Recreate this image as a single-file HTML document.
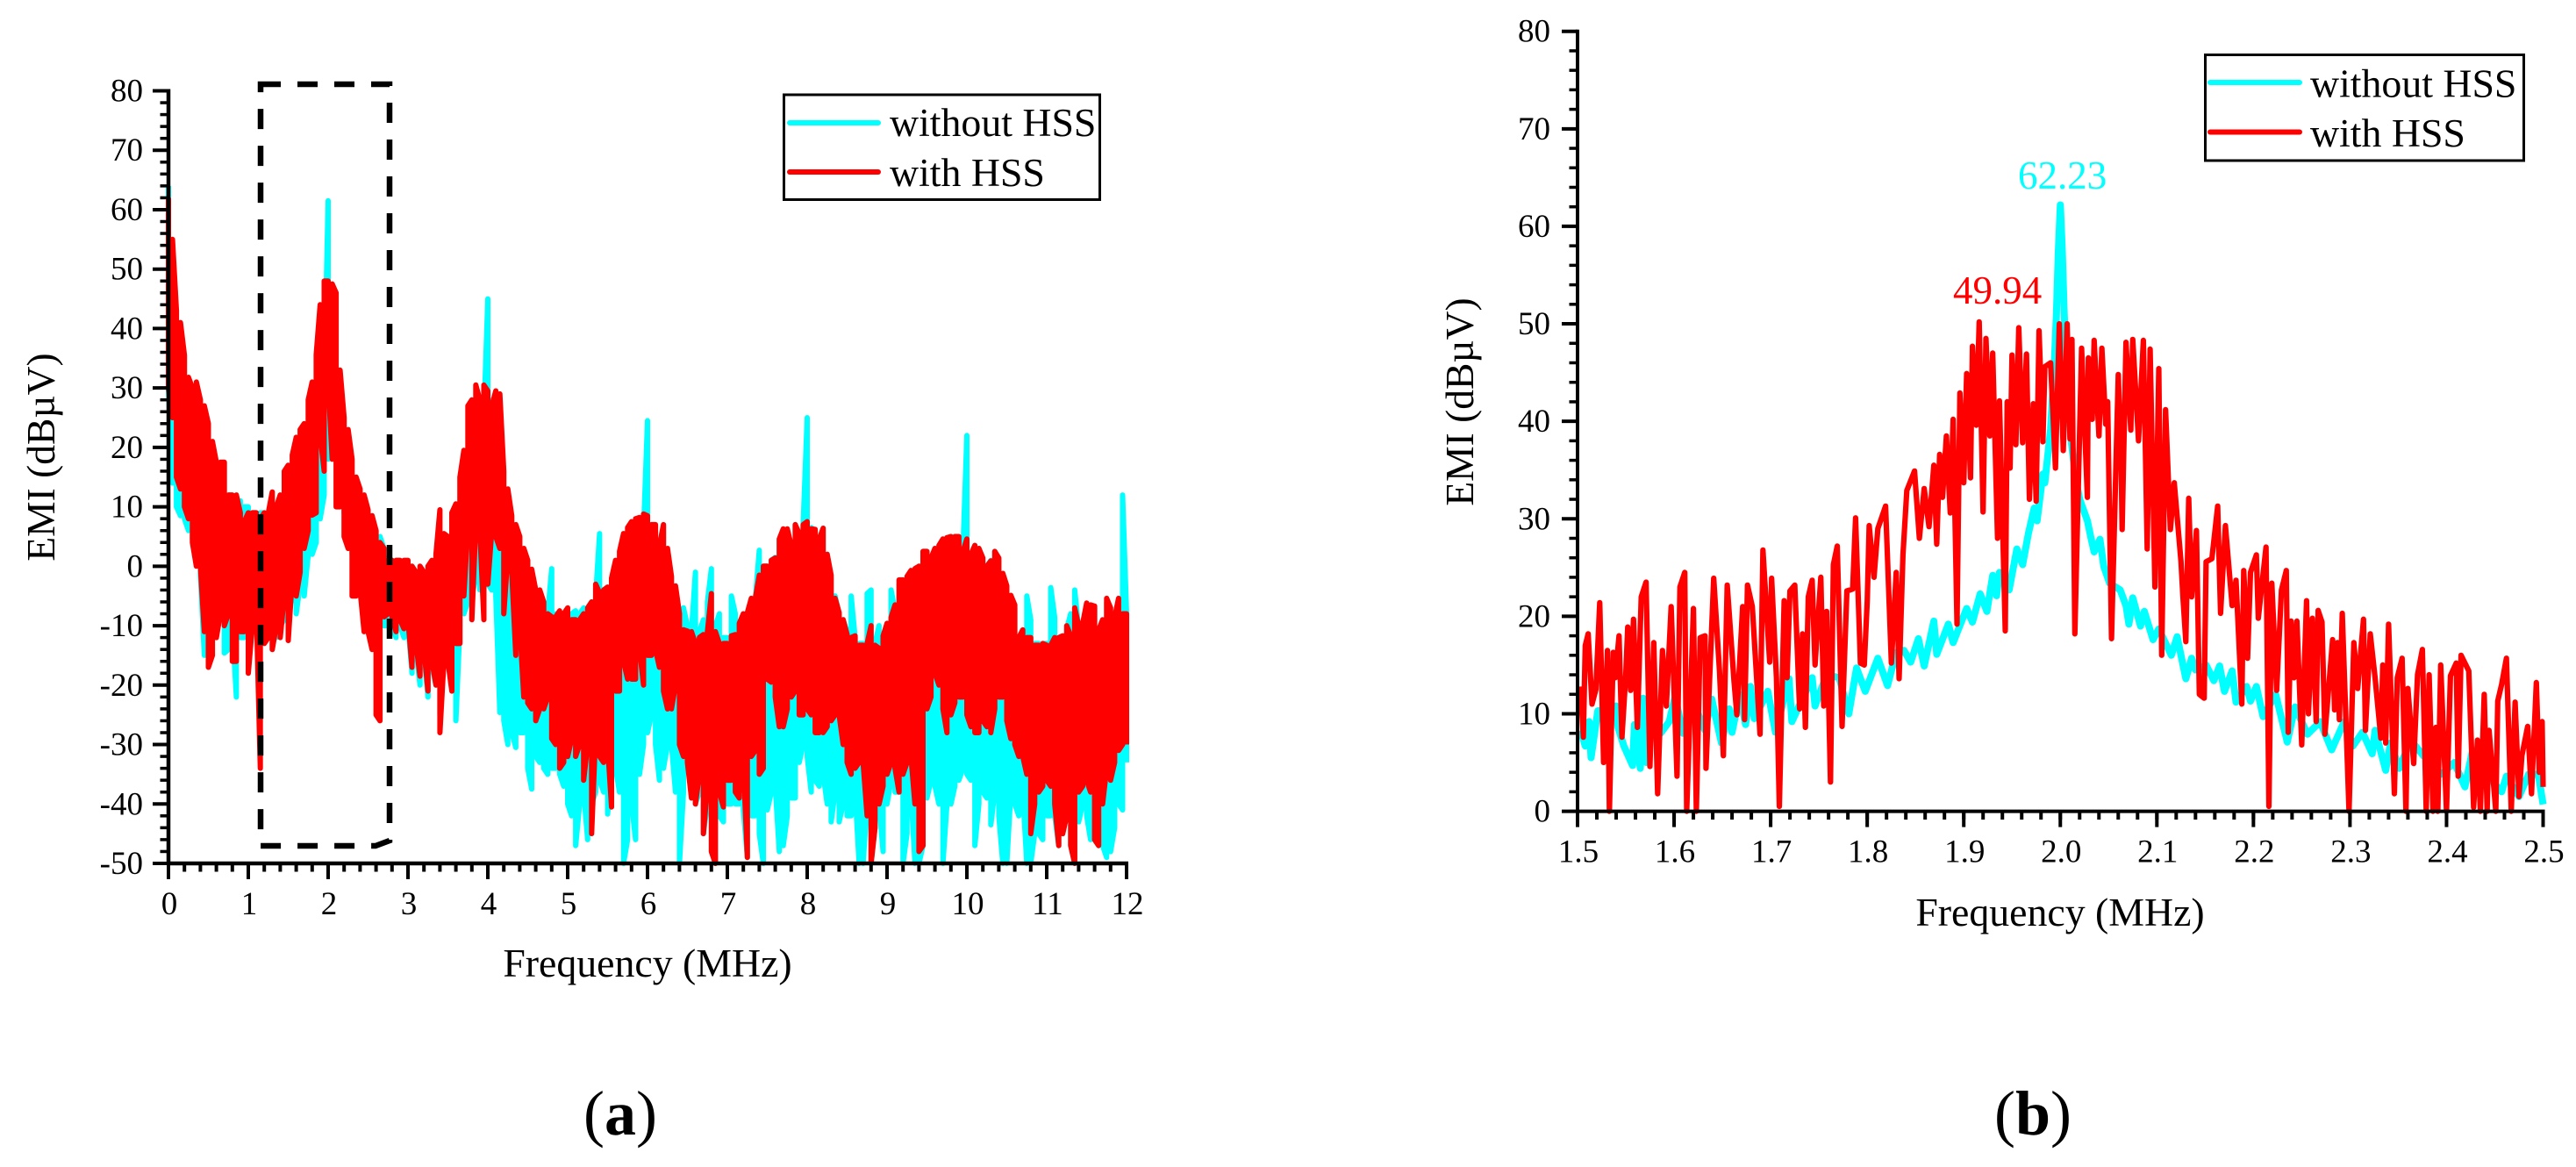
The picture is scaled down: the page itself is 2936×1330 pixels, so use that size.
<!DOCTYPE html>
<html lang="en">
<head>
<meta charset="utf-8">
<title>EMI spectrum with and without HSS</title>
<style>
html,body{margin:0;padding:0;background:#fff;}
svg{display:block;font-family:"Liberation Serif",serif;}
</style>
</head>
<body>
<svg id="figure" xmlns="http://www.w3.org/2000/svg" width="2936" height="1330" viewBox="0 0 2936 1330">
  <rect width="2936" height="1330" fill="#fff"/>
  <g id="panel-a"></g>
  <g id="panel-b"></g>

  <path d="M297 96H444V958L428 964H297Z" fill="none" stroke="#000" stroke-width="6.5" stroke-dasharray="23 19"/>

  <g>
    <rect x="893.5" y="108" width="360" height="119.5" fill="#fff" stroke="#000" stroke-width="3"/>
    <line x1="900" y1="140" x2="1001" y2="140" stroke="#00ffff" stroke-width="6" stroke-linecap="round"/>
    <text x="1014" y="155" font-size="45.8">without HSS</text>
    <line x1="900" y1="196" x2="1001" y2="196" stroke="#ff0000" stroke-width="6" stroke-linecap="round"/>
    <text x="1014" y="212" font-size="45.8">with HSS</text>
  </g>

  <g>
    <rect x="2513.5" y="62.5" width="363" height="120.5" fill="#fff" stroke="#000" stroke-width="3"/>
    <line x1="2519" y1="94" x2="2621" y2="94" stroke="#00ffff" stroke-width="6" stroke-linecap="round"/>
    <text x="2633" y="110.5" font-size="45.8">without HSS</text>
    <line x1="2519" y1="150.5" x2="2621" y2="150.5" stroke="#ff0000" stroke-width="6" stroke-linecap="round"/>
    <text x="2633" y="167" font-size="45.8">with HSS</text>
  </g>

  <text x="2300" y="215" font-size="45" fill="#00ffff">62.23</text>
  <text x="2226" y="346" font-size="45" fill="#ff0000">49.94</text>

  <text x="707" y="1293" font-size="72" text-anchor="middle">(<tspan font-weight="bold">a</tspan>)</text>
  <text x="2317" y="1293" font-size="72" text-anchor="middle">(<tspan font-weight="bold">b</tspan>)</text>
</svg>

<script>
/* Panel (a): envelopes, one value per aFreqStep MHz, 0 to 12 MHz */
const aFreqStep = 0.05;
const aCyanUpper = [
64,38,24,20,20,18,16,16,14,14,12,12,10,10,10,10,10,10,11,10,
10,9,9,9,9,8,8,9,10,11,12,13,14,15,16,18,20,22,24,31,
61.5,32,26,22,19,16,14,12,10,8,7,7,6,5,3,1.5,1,1,1,0,
0,0,-1,-1,-1,-1,0,0,0,1,2,3,4,5,6,8,12,15,18,25,
45,28,20,8,6,5,2,0,-1,-2,-4,-5,-6,-8,-9,-8,-0.4,-8,-9,-10,
-9,-8,-7.5,-8,-7,-7,-6,-5,5.5,-4,-4,-3.5,-3,-2,-1,0,2,4,5,6,
24.5,7,6,3,6,2,-2,-4,-8,-7,-10,-11,-1,-11,-9,-6,-0.4,-10,-8,-12,
-12,-5,-8,-11,-8,-8.5,-6,-5.5,2.7,0,0,1,1.5,4.5,6,6,3,7,5,7,
25,6.5,6,4,6,2,-2,-5,-8,-9,-11,-5,-12,-13,-13,-4.6,-4,-13,-10,-12,
-10,-4,-7.5,-3,-3,-2.5,-1.5,-1,0,2.3,2.3,1,3,3.5,4.4,4.5,5,5,5,2.5,
22,2,3.5,3,1,0,1,2.5,1,-1.5,-3.5,-5,-7,-12,-11,-5,-9,-13,-13,-13,
-13,-3.6,-8.6,-12.5,-12,-10.5,-8,-4,-10.5,-10,-6.5,-6.5,-7,-11,-9.5,-6,-7.5,-9,-6,12,
-8];
const aCyanLower = [
30,14,10,8.5,8,6,4.5,4,-1.5,-15,-16,-12,-8,-6,-14.6,-14,-10,-22,-12,-12,
-15,-8,-8,-8,-8,-10,-12,-12,-10,-9,-8,-5,-8,-3,-5,2,2,4,8,12,
18,22,20,14,9,4,2,-1,-4,-8,-10,-12,-14,-16,-10,-10,-10,-12,-10,-12,
-10,-18,-14,-20,-15,-22,-17,-20,-25,-16,-16,-20,-26,-10,-8,-6,-5,-2,-4,-2,
-3,-4,-5,-24.6,-26,-30,-28,-30.5,-28,-28,-34,-37.5,-32,-33,-34,-35,-34,-34,-35,-37,
-40,-42,-47,-40,-38,-46,-40,-38,-36,-38,-41.7,-35,-34,-38,-50,-46,-40,-46,-35,-30,
-28,-25,-30,-36,-34,-30,-30,-38,-50,-38,-34,-35,-40,-38,-45,-40,-48,-50,-42,-43,
-40,-40,-40,-40,-41,-49,-42,-42,-45,-50,-41,-38,-37,-48,-47,-42,-39,-39,-33,-30,
-32,-38,-36,-37,-35,-40,-43,-38,-43,-40,-42,-42,-38,-50,-50,-40,-50,-44,-40,-48,
-40,-36,-38,-38,-50,-45,-38,-50,-50,-47,-39,-36,-37,-40,-50,-40,-40,-37,-36,-34,
-35,-36,-47,-40,-38,-39,-43.5,-38,-42,-50,-50,-38,-40,-42,-38,-50,-50,-45,-45,-46,
-42,-42,-42,-47,-45,-42,-47,-50,-43,-40,-42,-46,-46,-47,-47,-49,-48,-44,-40,-41,
-33];
const aRedUpper = [
62,55,43,41,35.5,31.8,30,31,28,27,24,21,17.5,17.5,17.5,12,12,12,9,7.5,
9,9,9,8,9,9,12.5,10,12,16,17,18.7,21.7,23,24,28,31,35.6,44,48,
48,47.5,46,33,25,23,18,15,13,12,9.5,8.5,6,4,3,1,1,1,1,1,
1,0,-1,0,-1,0,1,2,9.5,5.5,5,9,10.5,15,19.5,27,28,30.5,28,30.5,
29.5,27,29.5,29,16,13,8.5,7,5,3,1,-0.5,-4,-4,-6,-8,-8.5,-8.5,-7.5,-8,
-7,-9,-9,-9,-8,-7,-6,-3,-4.5,-4,-3.5,-2,1,2.5,5.5,6.5,7.5,8,8.2,8.8,
8.5,7,7,3.5,7,3,-1.7,-3.3,-8,-10.7,-10.9,-11,-13,-12,-11.5,-11,-4.6,-11,-13,-13,
-13,-11.7,-11.5,-9.6,-8,-7.8,-5.4,-5.4,-1.5,0,0,1,1.4,4.6,6.3,6.3,3.5,7,5.5,7,
7.5,6.3,6.2,4.6,6.4,2,-1.5,-5.4,-7.8,-9,-11.5,-12,-11.7,-13.3,-13.3,-13,-10,-13.3,-13.8,-11.7,
-9.6,-8.6,-6.5,-2.3,-2.3,-1.7,-0.7,-0.4,0,2.5,2.5,1.4,3,3.5,4.6,4.8,5,5,5,2.5,
4.6,2,3.5,3,1.4,0,0.9,2.5,1.4,-1.2,-3.3,-4.9,-6.5,-12,-10.7,-12,-12,-13.3,-13.3,-13,
-13.3,-13.3,-12,-12,-11.7,-10,-11.7,-7,-10,-9.6,-6.2,-6.5,-6.7,-10.7,-9,-5.4,-7,-8.6,-5.4,-8,
-8];
const aRedLower = [
30,25,15,13,10,8,4,0,0,-11,-17,-15,-12,-8,-10,-8,-16,-16,-11,-11,
-18,-10,-7,-34,-13,-12,-14,-10,-12,-5,-12.5,-2,-5,-1,3,6,8.6,9,22,16,
31,18,10,10,5,3,-5,-5,-4,-11,-11,-14,-25,-26,-8.5,-8,-8.5,-11,-9,-10.5,
-9,-17,-13,-18.5,-14,-21,-16,-20,-28,-16,-16,-21,-13,-13,-5,7,-9,7,6,-9,
-3,6,5,3,-8,2,-1,-15,-10,-22,-23,-24,-26,-24,-24,-22,-29,-30,-34,-33,
-32,-29,-32,-30,-36,-30,-45,-28,-32,-33,-30,-40.5,-21,-21,-16,-19,-19,-19,-14,-20,
-15,-15,-14,-17,-21,-24,-24,-20,-30,-32,-33,-39,-40,-35,-45,-37,-48,-50,-38,-40.5,
-36,-36,-38,-39,-33,-49,-32,-31,-35,-34,-19,-19.5,-22,-27,-27,-24,-22,-21,-25,-25,
-24,-25,-28,-28,-28,-27,-26,-25,-25,-30,-33,-35,-34,-33,-33,-42,-50,-44,-40,-37,
-35,-33,-34,-38,-35,-33,-32,-40,-48,-47,-24,-22,-18,-20,-24,-28,-25,-23,-22,-22,
-25,-27,-28,-28,-26,-27,-28,-24,-22,-22,-26,-29,-30,-32,-32,-35,-45,-40,-38,-37,
-36,-37,-40,-47,-45,-42,-47,-50,-38,-37,-36,-38,-46,-47,-40,-34,-36,-33,-31,-30,
-30];
const aXTickLabels = ['0','1','2','3','4','5','6','7','8','9','10','11','12'];
const aYTickLabels = ['80','70','60','50','40','30','20','10','0','-10','-20','-30','-40','-50'];

/* Panel (b): turning points */
const bRedFreq = [
1.503,1.506,1.508,1.511,1.515,1.519,1.523,1.527,1.531,1.533,1.537,1.539,1.543,1.546,1.55,1.552,1.555,1.558,1.562,1.566,
1.571,1.575,1.579,1.583,1.588,1.592,1.597,1.603,1.606,1.611,1.613,1.62,1.623,1.627,1.632,1.633,1.641,1.647,1.651,1.655,
1.662,1.665,1.671,1.673,1.676,1.681,1.689,1.692,1.699,1.701,1.706,1.709,1.714,1.717,1.72,1.725,1.73,1.733,1.736,1.739,
1.743,1.746,1.752,1.755,1.758,1.762,1.765,1.769,1.774,1.779,1.785,1.788,1.793,1.797,1.8,1.802,1.807,1.811,1.819,1.825,
1.83,1.833,1.837,1.841,
1.849,1.854,1.859,1.864,1.869,1.872,1.875,1.878,1.882,1.886,1.889,1.893,1.896,1.9,1.903,1.907,1.909,1.913,1.916,1.92,
1.923,1.927,1.93,1.935,1.937,1.943,1.945,1.948,1.95,1.954,1.957,1.961,1.965,1.968,1.972,1.975,1.978,1.982,1.984,1.99,
1.995,1.999,2.003,2.007,2.01,2.012,2.015,2.022,2.028,2.029,2.033,2.035,2.04,2.043,2.047,2.049,2.053,2.06,2.063,2.064,
2.068,2.073,2.075,2.081,2.086,2.09,2.093,2.098,2.102,2.105,2.109,2.114,2.118,
2.125,2.127,2.13,2.133,2.136,2.141,2.144,2.149,2.151,2.157,2.163,2.166,
2.171,2.178,2.182,2.188,2.19,2.194,2.197,2.203,2.205,2.213,2.216,2.219,2.224,2.229,2.234,2.236,2.239,2.242,2.245,2.25,
2.255,2.257,2.261,2.265,2.267,2.271,2.274,2.282,2.284,2.287,2.289,2.292,2.299,2.304,2.308,2.314,2.316,2.321,2.326,2.332,
2.334,2.337,2.34,2.346,2.349,2.354,2.358,2.36,2.366,2.37,2.375,2.379,2.382,2.386,2.389,2.391,2.394,2.4,2.404,2.41,
2.412,2.415,2.423,2.428,2.432,2.435,2.439,2.442,2.444,2.451,2.453,2.457,2.462,2.467,2.471,2.475,2.478,2.484,2.488,2.493,
2.496,2.499,2.5];
const bRedLevel = [
12.8,7.6,17,18.2,11,12.5,21.4,5,16.5,0,16.3,13.7,18,7.6,14,18.9,12.4,19.7,8.6,22,
23.5,4.6,17.3,1.8,16.5,10.8,21,3.6,23,24.5,0,20.8,0,17.8,18,4.4,23.9,14.4,5.7,23.2,
13.4,9.9,21,9.4,23.2,21,7.9,26.8,15.3,23.9,13.7,0.5,21.6,13.7,22.6,23.2,10.5,18.2,8.6,22,
23.7,15,24,10.8,20.5,3,25.3,27.2,8.7,22.6,22.8,30.1,15.2,15,21.6,29.3,24,29,31.3,15.2,
24.5,13.6,26.3,32.9,
34.9,28,33.1,29.2,35.5,27.4,36.6,32.2,38.5,30.6,40.2,19.2,42.9,33.7,44.9,34.2,47.7,39.6,50.2,30.7,
48.5,38.5,47,28,42.1,18.5,42,35.2,46.8,37.6,49.6,37.8,46.9,32,41.8,31.8,49.3,37.9,45.6,46,
35.2,50,37,50,38.2,48.4,18.2,47.5,32.2,46.5,40.2,48.3,38.5,47.5,39.7,42,17.7,44.8,35.8,28.9,
48.1,39.1,48.4,38,48.3,26.9,47.4,23,45.4,16,41.2,28.9,33.7,
25.6,22,17.4,32.1,22,28.8,12,11.6,25.6,25.9,31.3,20.3,
29.3,21.1,23.7,11,24.7,15.7,24.5,26.3,19.8,27.1,0.5,23.4,12.4,22.7,24.7,8.1,19.5,13.7,19.5,6.8,
21.6,10,19.8,9.2,20.6,19.4,7.9,17.6,10.4,17.3,9.4,20.3,0,17.3,12.6,19.7,8.3,18.2,13.7,7.5,
15,7,19.2,1.8,13.7,15.7,0,12.6,4.9,14,16.6,0,14,0,8.6,0,15,0,13.9,15.2,
3.6,16,14.4,0.4,7.3,0,12,0,8.3,0,11.3,13,15.7,0,11.2,1.5,5.7,8.7,1.8,13.2,
4,9.2,2.5];
const bCyanFreq = [
1.503,1.508,1.512,1.514,1.521,1.54,1.542,1.548,1.557,1.559,1.565,1.568,1.571,1.576,1.586,1.595,1.601,1.609,1.62,1.632,
1.639,1.649,1.657,1.66,1.668,1.674,1.679,1.683,1.697,1.705,1.719,1.722,1.743,1.746,1.758,1.771,1.781,1.789,1.798,1.811,
1.821,1.83,1.838,1.845,1.853,1.859,1.869,1.872,1.884,1.889,1.903,1.909,1.917,1.924,1.93,1.934,1.937,1.947,1.955,1.961,
1.967,1.973,1.976,1.982,1.984,1.99,1.994,1.996,1.998,2,2.002,2.004,2.007,2.011,2.016,2.02,2.028,2.032,2.035,2.041,
2.045,2.051,2.062,2.068,2.071,2.075,2.083,2.087,2.096,2.102,2.115,2.121,2.13,2.136,2.14,2.151,2.159,2.165,2.17,2.178,
2.182,2.193,2.197,2.203,2.21,2.223,2.235,2.243,2.256,2.269,2.281,2.294,2.303,2.313,2.323,2.326,2.337,2.342,2.351,2.363,
2.376,2.395,2.408,2.419,2.427,2.441,2.457,2.462,2.475,2.485,2.495,2.5];
const bCyanLevel = [
8.3,6.7,9.2,5.5,10.3,10.8,8.6,6.7,4.7,8.9,4.4,11.6,5,9.2,8,9.2,11.8,8,11.2,8.3,
11.5,7,10.5,8.1,12,8.9,12.8,9.5,12.3,8.1,13.6,9.2,13.7,10.8,14,13.7,10,14.7,12.3,15.7,
12.9,16.3,16.5,15.3,17.7,14.9,19.5,16.1,19.2,17.3,20.8,19.4,22.3,20.5,24.2,22.1,24.5,22.7,26.9,25.3,
28.5,31.1,29.8,34.6,33.7,39.2,46.3,51,57.5,62.2,57.5,51,44.6,38.2,34,32,29.8,27.9,26.6,27.9,
25.1,23.4,22.7,21.1,19.2,21.9,19,20.5,17.6,18.7,16,17.9,13.6,15.7,14.5,15,13.4,14.9,12.3,14.4,
11.2,12.8,11.3,12.8,9.7,12,7.1,10.7,7.9,9.2,6.3,9.2,6.7,8.1,5.9,8.3,4.2,7,4.4,7.3,
5.7,3.8,5,2.5,6.3,3.8,2,3.6,1.5,3.8,3.8,0.7];
const bXTickLabels = ['1.5','1.6','1.7','1.8','1.9','2.0','2.1','2.2','2.3','2.4','2.5'];
const bYTickLabels = ['80','70','60','50','40','30','20','10','0'];

const SVGNS = 'http://www.w3.org/2000/svg';
function mk(tag, attrs, parent) {
  const node = document.createElementNS(SVGNS, tag);
  for (const key in attrs) node.setAttribute(key, attrs[key]);
  parent.appendChild(node);
  return node;
}

function sweepPath(upper, lower, step, sx, sy) {
  let d = '';
  upper.forEach(function (hi, i) {
    const x = sx(i * step).toFixed(1);
    const a = i % 2 === 0 ? hi : lower[i];
    const b = i % 2 === 0 ? lower[i] : hi;
    d += (i === 0 ? 'M' : 'L') + x + ' ' + sy(a).toFixed(1) + 'L' + x + ' ' + sy(b).toFixed(1);
  });
  return d;
}

function linePath(freq, level, sx, sy) {
  return freq.map(function (f, i) {
    return (i === 0 ? 'M' : 'L') + sx(f).toFixed(1) + ' ' + sy(level[i]).toFixed(1);
  }).join('');
}

function drawAxes(g, cfg, sx, sy) {
  const x0 = sx(cfg.xMin), x1 = sx(cfg.xMax), yTop = sy(cfg.yMax), yBot = sy(cfg.yMin);

  const yAxis = mk('line', {x1: x0, x2: x0, y1: yTop - 2, y2: yBot + 2, stroke: '#000', 'stroke-width': cfg.axisWidth}, g);
  
  

  const xAxis = mk('line', {x1: x0 - 2, x2: x1 + 2, y1: yBot, y2: yBot, stroke: '#000', 'stroke-width': cfg.axisWidth}, g);
  
  

  for (let v = cfg.yMin; v <= cfg.yMax + 1e-9; v += cfg.yMinorStep) {
    const minorY = mk('line', {x1: x0 - 9.5, x2: x0, y1: sy(v), y2: sy(v), stroke: '#000', 'stroke-width': 3.5}, g);
    
    
  }
  for (let v = cfg.xMin; v <= cfg.xMax + 1e-9; v += cfg.xMinorStep) {
    const minorX = mk('line', {x1: sx(v), x2: sx(v), y1: yBot, y2: yBot + 9.5, stroke: '#000', 'stroke-width': 4}, g);
    
    
  }

  cfg.yLabels.forEach(function (label) {
    const v = parseFloat(label);
    const tick = mk('line', {x1: x0 - 18, x2: x0, y1: sy(v), y2: sy(v), stroke: '#000', 'stroke-width': 4}, g);
    
    
    const text = mk('text', {x: x0 - cfg.yLabelGap, y: sy(v) + 12, 'font-size': 37, 'text-anchor': 'end'}, g);
    text.textContent = label;
    
    
  });

  cfg.xLabels.forEach(function (label) {
    const v = parseFloat(label);
    const tick = mk('line', {x1: sx(v), x2: sx(v), y1: yBot, y2: yBot + 18, stroke: '#000', 'stroke-width': 4}, g);
    
    
    const text = mk('text', {x: sx(v) + 1, y: yBot + 58, 'font-size': 37, 'text-anchor': 'middle'}, g);
    text.textContent = label;
    
    
  });

  const xTitle = mk('text', {x: cfg.xTitleX, y: cfg.xTitleY, 'font-size': 45.8, 'text-anchor': 'middle'}, g);
  xTitle.textContent = 'Frequency (MHz)';
  
  

  const yTitle = mk('text', {'font-size': 45.5, 'text-anchor': 'middle', transform: 'translate(' + cfg.yTitleX + ' ' + cfg.yTitleY + ') rotate(-90)'}, g);
  yTitle.textContent = 'EMI (dB\u00B5V)';
  
  
}

function scale(d0, d1, r0, r1) {
  return function (v) { return r0 + (v - d0) * (r1 - r0) / (d1 - d0); };
}

/* Panel (a) */
(function () {
  const g = document.getElementById('panel-a');
  const sx = scale(0, 12, 192, 1284);
  const sy = scale(-50, 80, 984, 103.5);

  const cyan = mk('path', {d: sweepPath(aCyanUpper, aCyanLower, aFreqStep, sx, sy), fill: 'none', stroke: '#00ffff', 'stroke-width': 6, 'stroke-linejoin': 'round'}, g);
  
  

  const red = mk('path', {d: sweepPath(aRedUpper, aRedLower, aFreqStep, sx, sy), fill: 'none', stroke: '#ff0000', 'stroke-width': 6, 'stroke-linejoin': 'round'}, g);
  
  

  drawAxes(g, {
    xMin: 0, xMax: 12, yMin: -50, yMax: 80, xMinorStep: 0.2, yMinorStep: 2,
    axisWidth: 4.5, yLabelGap: 29, xLabels: aXTickLabels, yLabels: aYTickLabels,
    xTitleX: 738, xTitleY: 1113, yTitleX: 62, yTitleY: 521
  }, sx, sy);
})();

/* Panel (b) */
(function () {
  const g = document.getElementById('panel-b');
  const sx = scale(1.5, 2.5, 1798, 2898.5);
  const sy = scale(0, 80, 924.6, 35.7);

  const cyan = mk('path', {d: linePath(bCyanFreq, bCyanLevel, sx, sy), fill: 'none', stroke: '#00ffff', 'stroke-width': 8, 'stroke-linejoin': 'round'}, g);
  
  

  const red = mk('path', {d: linePath(bRedFreq, bRedLevel, sx, sy), fill: 'none', stroke: '#ff0000', 'stroke-width': 6.2, 'stroke-linejoin': 'round'}, g);
  
  

  drawAxes(g, {
    xMin: 1.5, xMax: 2.5, yMin: 0, yMax: 80, xMinorStep: 0.02, yMinorStep: 2,
    axisWidth: 4, yLabelGap: 31, xLabels: bXTickLabels, yLabels: bYTickLabels,
    xTitleX: 2348, xTitleY: 1055, yTitleX: 1679, yTitleY: 458
  }, sx, sy);
})();
</script>
</body>
</html>
